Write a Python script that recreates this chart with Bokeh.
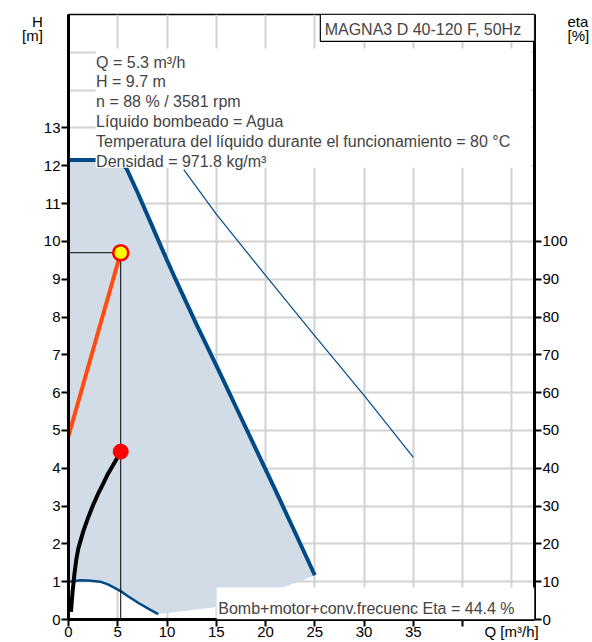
from bokeh.plotting import figure
from bokeh.models import Range1d, LinearAxis, FixedTicker, BoxAnnotation, Label
from bokeh.embed import file_html
from bokeh.resources import INLINE

# ---------------- data ----------------
# maximum curve (H in m vs Q in m3/h)
q_max = [0, 4.6, 5.3, 5.9, 7.0, 8.0, 9.0, 10.0, 11.0, 13.0, 15.0, 17.0, 19.0, 21.0, 23.0, 25.0]
h_max = [12.15, 12.15, 12.1, 11.92, 11.3, 10.7, 10.1, 9.5, 8.92, 7.8, 6.72, 5.62, 4.52, 3.42, 2.3, 1.17]
# lower boundary of the operating area (from right end back to the minimum curve)
q_low = [25.0, 23.4, 20.0, 18.0, 15.0, 12.0, 10.0, 9.1]
h_low = [1.17, 1.0, 0.7, 0.52, 0.33, 0.23, 0.17, 0.14]
# minimum curve
q_min = [0, 1.2, 2.0, 3.2, 4.0, 5.3, 6.0, 7.15, 8.0, 9.1]
h_min = [1.0, 1.04, 1.03, 1.0, 0.93, 0.75, 0.62, 0.43, 0.3, 0.14]
# thin blue curve
q_thin = [11.7, 15.0, 20.0, 25.0, 30.0, 35.0]
h_thin = [11.9, 10.72, 9.1, 7.5, 5.93, 4.29]
# duty pump curve (orange)
q_duty = [0.0, 5.3]
h_duty = [4.85, 9.7]
# efficiency curve (eta %)
q_eta = [0.25, 0.4, 0.6, 0.8, 1.0, 1.5, 2.0, 2.5, 3.0, 3.5, 4.0, 4.5, 5.0, 5.3]
eta = [2.0, 7.0, 12.0, 16.0, 18.8, 23.3, 27.0, 30.3, 33.2, 35.8, 38.5, 40.7, 43.0, 44.4]
# duty point
q_dp = [5.3]
h_dp = [9.7]
eta_dp = [44.4]

x_ticks = [0, 5, 10, 15, 20, 25, 30, 35, 40]
x_grid = [0, 5, 10, 15, 20, 25, 30, 35, 40, 45]
h_ticks = list(range(0, 14))
h_grid = list(range(0, 16))
eta_ticks = list(range(0, 101, 10))

info_lines = [
    "Q = 5.3 m³/h",
    "H = 9.7 m",
    "n = 88 % / 3581 rpm",
    "Líquido bombeado = Agua",
    "Temperatura del líquido durante el funcionamiento = 80 °C",
    "Densidad = 971.8 kg/m³",
]
title_text = "MAGNA3 D 40-120 F, 50Hz"
eta_text = "Bomb+motor+conv.frecuenc Eta = 44.4 %"
q_label = "Q [m³/h]"
h_label = "H\n[m]"
eta_label = "eta\n[%]"

FONT = "Liberation Sans"
BLUE = "#004b87"
SHADE = "#d1dce7"
ORANGE = "#ff4d12"
NBSP = "\u00a0"

p = figure(width=592, height=642, output_backend="svg", toolbar_location=None,
           x_range=Range1d(0, 47.3), y_range=Range1d(0, 16),
           min_border_left=68, min_border_right=54, min_border_top=14,
           min_border_bottom=22)
p.extra_y_ranges = {"eta": Range1d(0, 160)}
p.outline_line_color = "black"
p.outline_line_width = 1.7

# grid
p.xgrid.ticker = FixedTicker(ticks=x_grid)
p.ygrid.ticker = FixedTicker(ticks=h_grid)
for g in (p.xgrid, p.ygrid):
    g.grid_line_color = "#d2d2d2"
    g.grid_line_width = 2

def style_axis(ax):
    ax.axis_line_width = 3
    ax.axis_line_color = "black"
    ax.major_tick_line_width = 2
    ax.major_tick_out = 7
    ax.major_tick_in = 0
    ax.minor_tick_line_color = None
    ax.major_label_text_font = FONT
    ax.major_label_text_font_size = "15px"
    ax.major_label_text_color = "black"
    ax.major_label_standoff = 1
    ax.axis_label_text_font = FONT
    ax.axis_label_text_font_size = "15px"
    ax.axis_label_text_font_style = "normal"
    ax.axis_label_text_color = "black"
    ax.axis_label_text_line_height = 0.82
    ax.axis_label_orientation = "horizontal"
    ax.axis_label_align = "end"

xax = p.xaxis[0]
yax = p.yaxis[0]
xax.ticker = FixedTicker(ticks=x_ticks)
xax.major_label_overrides = {40: ""}
yax.ticker = FixedTicker(ticks=h_ticks)
style_axis(xax)
style_axis(yax)
xax.major_label_standoff = 0
# label is centred on the axis end: pad on the right to shift it left
xax.axis_label = q_label + NBSP * 11
xax.axis_label_standoff = -17
# label is centred on the top of the axis: two empty lines push it down
yax.axis_label = "\n\n" + h_label
yax.axis_label_standoff = -2

right = LinearAxis(y_range_name="eta", ticker=FixedTicker(ticks=eta_ticks))
style_axis(right)
right.axis_label = "\n\n" + eta_label
right.axis_label_standoff = -3
p.add_layout(right, "right")

# operating area
area_x = [q_min[0]] + q_max + q_low + q_min[::-1]
area_y = [h_min[0]] + h_max + h_low + h_min[::-1]
p.patch(area_x, area_y, fill_color=SHADE, line_color=None)

p.line(q_min, h_min, line_color=BLUE, line_width=2.5)
p.line(q_thin, h_thin, line_color=BLUE, line_width=1.2)
p.line(q_max, h_max, line_color=BLUE, line_width=4)
p.line(q_duty, h_duty, line_color=ORANGE, line_width=4)
p.line(q_eta, eta, line_color="black", line_width=4, y_range_name="eta")

# guide lines to the duty point
p.line([q_dp[0], q_dp[0]], [0, h_dp[0]], line_color="black", line_width=1)
p.line([0, q_dp[0]], [h_dp[0], h_dp[0]], line_color="black", line_width=1)

p.scatter(q_dp, eta_dp, size=15, fill_color="#ff0000", line_color="#ff0000",
          y_range_name="eta")
p.scatter(q_dp, h_dp, size=15, fill_color="#ffff00", line_color="#ff0000",
          line_width=2.5)

# info box
p.add_layout(BoxAnnotation(left=2.75, right=47.0, top=15.1, bottom=11.95,
                           fill_color="white", fill_alpha=1, line_color=None))
baselines = [14.73, 14.23, 13.70, 13.17, 12.65, 12.12]
for txt, yb in zip(info_lines, baselines):
    p.add_layout(Label(x=2.8, y=yb, text=txt, text_font=FONT,
                       text_font_size="16px", text_baseline="alphabetic"))

# title box
p.add_layout(BoxAnnotation(left=25.56, right=47.3, top=16, bottom=15.29,
                           fill_color="white", fill_alpha=1,
                           line_color="black", line_alpha=1, line_width=1.2))
p.add_layout(Label(x=26.0, y=15.6, text=title_text, text_font=FONT,
                   text_font_size="16px", text_baseline="alphabetic"))

# eta box
p.add_layout(BoxAnnotation(left=15.04, right=47.3, top=0.845, bottom=0,
                           fill_color="white", fill_alpha=1, line_color=None))
p.add_layout(Label(x=15.2, y=0.28, text=eta_text, text_font=FONT,
                   text_font_size="16px", text_baseline="alphabetic"))

open("out.html", "w").write(file_html(p, INLINE))
